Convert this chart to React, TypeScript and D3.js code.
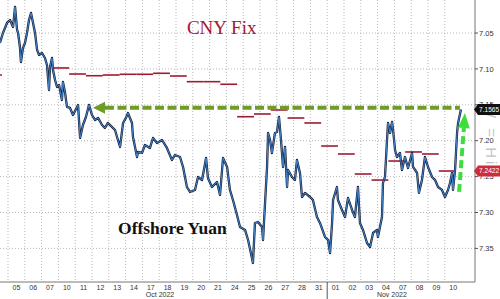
import React from "react";
import * as d3 from "d3";

// Trading-day axis labels (05 Oct 2022 .. 10 Nov 2022)
const dayLabels = ["05","06","07","10","11","12","13","14","17","18","19","20","21","24","25","26","27","28","31","01","02","03","04","07","08","09","10"];
const monthLabels = ["Oct 2022", "Nov 2022"];
const monthLabelAt = [9.05, 22.85];
const monthBoundaryIdx = [19];
const yTicks = [7.05, 7.1, 7.15, 7.2, 7.25, 7.3, 7.35];

// Offshore yuan (USDCNH) — fractional trading-day index and level
const cnhT = [-0.48,-0.30,-0.06,0.12,0.30,0.42,0.54,0.60,0.71,0.77,0.89,1.01,1.13,1.25,1.37,1.49,1.61,1.73,1.85,2.02,2.20,2.32,2.44,2.50,2.62,2.68,2.80,2.92,3.04,3.21,3.27,3.39,3.51,3.69,3.87,4.11,4.17,4.29,4.46,4.64,4.82,5.00,5.18,5.36,5.60,5.77,5.95,6.19,6.37,6.49,6.67,6.85,7.02,7.14,7.38,7.44,7.68,7.74,7.98,8.15,8.45,8.63,8.87,9.17,9.46,9.76,9.94,10.24,10.42,10.65,10.83,11.13,11.31,11.55,11.79,11.90,12.14,12.44,12.62,12.80,13.04,13.21,13.39,13.63,13.81,14.11,14.29,14.52,14.58,14.70,14.88,15.12,15.18,15.30,15.42,15.48,15.60,15.71,15.89,16.01,16.13,16.25,16.37,16.49,16.61,16.67,16.90,17.08,17.20,17.38,17.50,17.68,17.98,18.15,18.39,18.57,18.87,19.05,19.17,19.29,19.35,19.58,19.64,19.88,20.06,20.24,20.48,20.65,20.83,20.95,21.13,21.37,21.55,21.73,21.96,22.02,22.26,22.32,22.44,22.56,22.62,22.74,22.86,22.92,23.04,23.15,23.33,23.45,23.63,23.81,24.05,24.11,24.35,24.46,24.64,24.82,25.00,25.24,25.42,25.60,25.83,26.01,26.19,26.31,26.43,26.49,26.61,26.73,26.79,26.96];
const cnhV = [7.0639,7.0500,7.0360,7.0319,7.0416,7.0137,7.0458,7.0500,7.0695,7.0904,7.0709,7.0639,7.0500,7.0319,7.0221,7.0360,7.0500,7.0736,7.0806,7.0778,7.0848,7.0945,7.1294,7.0973,7.0848,7.1015,7.1154,7.1252,7.1224,7.1433,7.1182,7.1321,7.1530,7.1544,7.1642,7.1530,7.1502,7.1962,7.1781,7.1670,7.1502,7.1642,7.1711,7.1683,7.1781,7.1823,7.1753,7.1809,7.1851,7.1948,7.2087,7.1753,7.1683,7.1614,7.1753,7.1948,7.2227,7.2157,7.2171,7.2060,7.2101,7.1962,7.2032,7.1990,7.2101,7.2268,7.2199,7.2227,7.2366,7.2645,7.2714,7.2686,7.2505,7.2547,7.2241,7.2519,7.2645,7.2575,7.2756,7.2241,7.2366,7.2686,7.2826,7.3035,7.3202,7.3243,7.3383,7.3633,7.3703,7.3146,7.3132,7.3202,7.3383,7.2867,7.2366,7.1892,7.1990,7.2171,7.1892,7.1879,7.1670,7.1990,7.2366,7.2087,7.2645,7.2408,7.2505,7.2547,7.2269,7.2450,7.2784,7.2728,7.2784,7.2826,7.3063,7.3146,7.3341,7.3383,7.3564,7.3146,7.2826,7.2645,7.2826,7.2965,7.3063,7.2798,7.2965,7.3063,7.2645,7.3146,7.3243,7.3425,7.3480,7.3285,7.3243,7.3341,7.3063,7.2589,7.2505,7.1990,7.1753,7.1892,7.1739,7.1851,7.2129,7.2227,7.2171,7.2408,7.2227,7.2380,7.2171,7.2366,7.2450,7.2728,7.2547,7.2227,7.2366,7.2505,7.2547,7.2645,7.2686,7.2784,7.2686,7.2589,7.2450,7.2686,7.2408,7.1892,7.1753,7.1565];

// CNY daily fixing — trading-day index and level
const fixIdx = [-1,3,4,5,6,7,8,9,10,11,12,13,14,15,16,17,18,19,20,21,22,23,24,25,26];
const fixV = [7.1085,7.0987,7.1071,7.1095,7.1085,7.1075,7.1075,7.1061,7.1099,7.1178,7.1178,7.1214,7.1666,7.1628,7.1572,7.1684,7.1753,7.2074,7.2185,7.2464,7.2548,7.2283,7.2157,7.2185,7.2422];

const lastCnh = 7.1565;
const lastFix = 7.2422;
const arrowLevel = 7.154;
const arrowFromT = 26.9;
const arrowToT = 5.06;
const upArrowFrom = { t: 26.85, v: 7.2714 };
const upArrowTo = { t: 27.2, v: 7.1614 };

const W = 500, H = 299;
const plotRight = 475, plotBottom = 282;

export default function App() {
  const x = d3.scaleLinear().domain([-8 / 16.8, 467 / 16.8]).range([0, plotRight]);
  const y = d3.scaleLinear().domain([7.05, 7.35]).range([33, 248.4]);

  const pts: [number, number][] = cnhT.map((t, i) => [t, cnhV[i]]);
  const line = d3.line<[number, number]>().x((d) => x(d[0])).y((d) => y(d[1]));
  const path = line(pts) || "";

  const fixSegs = fixIdx.map((idx, i) => ({ x1: x(idx - 0.36), x2: x(idx + 0.64), yv: y(fixV[i]) }));

  const days = dayLabels.map((_, i) => i);

  // horizontal arrow
  const hy = y(arrowLevel);
  const hTip = x(arrowToT);
  const hEnd = x(arrowFromT);
  const headLen = 12;

  // vertical arrow
  const ax0 = x(upArrowFrom.t), ay0 = y(upArrowFrom.v);
  const ax1 = x(upArrowTo.t), ay1 = y(upArrowTo.v);
  const dx = ax1 - ax0, dy = ay1 - ay0;
  const len = Math.hypot(dx, dy);
  const ux = dx / len, uy = dy / len;
  const vHead = 15, vHalf = 6;
  const bx = ax1 - ux * vHead, by = ay1 - uy * vHead;
  const px = -uy, py = ux;

  const lastY = y(lastCnh);
  const fixY = y(lastFix);

  const tag = (cy: number) =>
    `M${plotRight - 1},${cy} L${plotRight + 3},${cy - 5.5} L${W},${cy - 5.5} L${W},${cy + 5.5} L${plotRight + 3},${cy + 5.5} Z`;

  return (
    <svg width={W} height={H} style={{ position: "absolute", left: 0, top: 0, display: "block", background: "#fff" }}>
      <defs>
        <clipPath id="plot">
          <rect x={0} y={0} width={plotRight} height={plotBottom} />
        </clipPath>
      </defs>

      {/* grid */}
      <g stroke="#9a9a9a" strokeWidth={0.7} strokeDasharray="1,2">
        {days.map((i) => (
          <line key={"vg" + i} x1={x(i)} x2={x(i)} y1={0} y2={plotBottom} />
        ))}
        {yTicks.map((v) => (
          <line key={"hg" + v} x1={0} x2={plotRight} y1={y(v)} y2={y(v)} />
        ))}
      </g>

      {/* annotations text */}
      <text x={x(10.65)} y={y(7.0514)} fontFamily="'Liberation Serif', 'Times New Roman', serif" fontSize={19} fill="#a3192f">
        CNY Fix
      </text>
      <text x={x(6.55)} y={y(7.33)} fontFamily="'Liberation Serif', 'Times New Roman', serif" fontSize={17.5} fontWeight="bold" fill="#111">
        Offshore Yuan
      </text>

      <g clipPath="url(#plot)">
        {/* CNY fix steps */}
        {fixSegs.map((s, i) => (
          <line key={"fx" + i} x1={s.x1} x2={s.x2} y1={s.yv} y2={s.yv} stroke="#9e1b32" strokeWidth={1.6} />
        ))}
        {/* offshore yuan line */}
        <path d={path} fill="none" stroke="#14233f" strokeWidth={2.3} strokeLinejoin="round" />
        <path d={path} fill="none" stroke="#4b8fd8" strokeWidth={0.9} strokeLinejoin="round" />
      </g>

      {/* horizontal olive dashed arrow */}
      <line x1={hTip + headLen} x2={hEnd} y1={hy} y2={hy} stroke="#6f9b27" strokeWidth={4} strokeDasharray="9,3.5" />
      <path d={`M${hTip},${hy} L${hTip + headLen},${hy - 6} L${hTip + headLen},${hy + 6} Z`} fill="#6f9b27" />

      {/* vertical bright green dashed arrow */}
      <line x1={ax0} y1={ay0} x2={bx} y2={by} stroke="#3fdc3f" strokeWidth={4} strokeDasharray="8,4" />
      <path
        d={`M${ax1},${ay1} L${bx + px * vHalf},${by + py * vHalf} L${bx - px * vHalf},${by - py * vHalf} Z`}
        fill="#3fdc3f"
      />

      {/* axes */}
      <line x1={plotRight} x2={plotRight} y1={0} y2={plotBottom} stroke="#777" strokeWidth={1} />
      <line x1={0} x2={plotRight} y1={plotBottom} y2={plotBottom} stroke="#777" strokeWidth={1} />
      {monthBoundaryIdx.map((i) => (
        <line key={"mb" + i} x1={x(i)} x2={x(i)} y1={plotBottom} y2={H} stroke="#555" strokeWidth={1} />
      ))}

      {/* y ticks */}
      <g fontFamily="'Liberation Sans', Arial, sans-serif" fontSize={7.5} fill="#333">
        {yTicks.map((v) => (
          <g key={"yt" + v}>
            <line x1={plotRight} x2={plotRight + 3} y1={y(v)} y2={y(v)} stroke="#555" />
            <text x={plotRight + 4} y={y(v)} dy="0.35em">
              {v.toFixed(2)}
            </text>
          </g>
        ))}
      </g>

      {/* x ticks */}
      <g fontFamily="'Liberation Sans', Arial, sans-serif" fontSize={7} fill="#333" textAnchor="middle">
        {dayLabels.map((d, i) => (
          <text key={"xl" + i} x={x(i + 0.5)} y={290}>
            {d}
          </text>
        ))}
        {monthLabels.map((m, i) => (
          <text key={"ml" + i} x={x(monthLabelAt[i])} y={297}>
            {m}
          </text>
        ))}
      </g>

      {/* watermark-ish rotated text */}
      <text
        transform={`translate(486,104) rotate(90)`}
        fontFamily="'Liberation Sans', Arial, sans-serif"
        fontSize={15}
        letterSpacing={3}
        fill="#c4c4c4"
      >
        W = Hi
      </text>

      {/* last value tags */}
      <path d={tag(lastY)} fill="#111" />
      <text x={plotRight + 4} y={lastY} dy="0.35em" fontFamily="'Liberation Sans', Arial, sans-serif" fontSize={6.6} fill="#fff">
        {lastCnh.toFixed(4)}
      </text>
      <path d={tag(fixY)} fill="#cc2c3c" />
      <text x={plotRight + 4} y={fixY} dy="0.35em" fontFamily="'Liberation Sans', Arial, sans-serif" fontSize={6.6} fill="#fff">
        {lastFix.toFixed(4)}
      </text>
    </svg>
  );
}
